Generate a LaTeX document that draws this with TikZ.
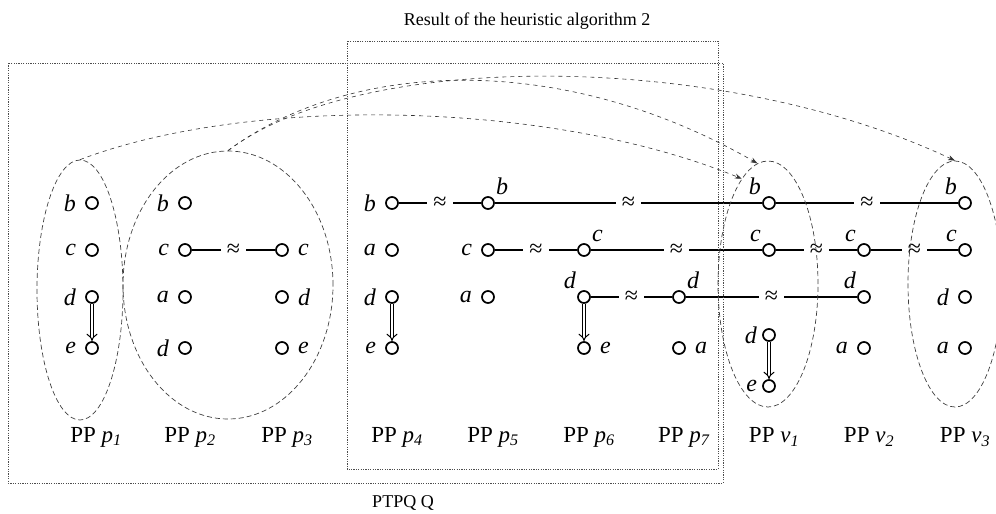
\documentclass[tikz,border=0pt]{standalone}
\usepackage{fontspec}
\setmainfont{Liberation Serif}
\usetikzlibrary{arrows.meta,shapes.geometric}
\tikzset{
  pnode/.style={draw, circle, fill=white, line width=1.7pt, inner sep=0pt, minimum size=12pt},
  plbl/.style={font=\fontsize{24}{24}\selectfont\itshape, inner sep=1pt, label distance=8pt},
  slbl/.style={plbl, label distance=3pt},
  ppname/.style={font=\fontsize{23}{26}\selectfont, inner sep=0pt},
  apx/.style={fill=white, inner xsep=6pt, inner ysep=1pt, font=\fontsize{24}{24}\selectfont},
  lnk/.style={line width=1.5pt},
  dbl/.style={double, double distance=2.8pt, line width=1pt, -{Implies[scale=1.3]}},
  grp/.style={draw=black!75, dash pattern=on 5pt off 3pt, line width=0.7pt, ellipse, inner sep=0pt},
  frm/.style={draw=black!70, dash pattern=on 1.2pt off 1.2pt, line width=0.6pt},
  mapto/.style={black!80, dash pattern=on 4pt off 4pt, line width=0.6pt, -{Stealth[length=7pt, width=5pt]}}
}
\begin{document}
\begin{tikzpicture}[x=1pt, y=-1pt]
\useasboundingbox (0,0) rectangle (996,514);
% PP p1 .. p3
\node[pnode, label={[plbl]left:b}] (p1b) at (92,203) {};
\node[pnode, label={[plbl]left:c}] (p1c) at (92,250) {};
\node[pnode, label={[plbl]left:d}] (p1d) at (92,297) {};
\node[pnode, label={[plbl]left:e}] (p1e) at (92,348) {};
\node[pnode, label={[plbl]left:b}] (p2b) at (185,203) {};
\node[pnode, label={[plbl]left:c}] (p2c) at (185,250) {};
\node[pnode, label={[plbl]left:a}] (p2a) at (185,297) {};
\node[pnode, label={[plbl]left:d}] (p2d) at (185,348) {};
\node[pnode, label={[plbl]right:c}] (p3c) at (282,250) {};
\node[pnode, label={[plbl]right:d}] (p3d) at (282,297) {};
\node[pnode, label={[plbl]right:e}] (p3e) at (282,348) {};
% PP p4 .. p7
\node[pnode, label={[plbl]left:b}] (p4b) at (392,203) {};
\node[pnode, label={[plbl]left:a}] (p4a) at (392,250) {};
\node[pnode, label={[plbl]left:d}] (p4d) at (392,297) {};
\node[pnode, label={[plbl]left:e}] (p4e) at (392,348) {};
\node[pnode, label={[slbl]45:b}] (p5b) at (488,203) {};
\node[pnode, label={[plbl]left:c}] (p5c) at (488,250) {};
\node[pnode, label={[plbl]left:a}] (p5a) at (488,297) {};
\node[pnode, label={[slbl]45:c}] (p6c) at (584,250) {};
\node[pnode, label={[slbl]135:d}] (p6d) at (584,297) {};
\node[pnode, label={[plbl]right:e}] (p6e) at (584,348) {};
\node[pnode, label={[slbl]45:d}] (p7d) at (679,297) {};
\node[pnode, label={[plbl]right:a}] (p7a) at (679,348) {};
% PP v1 .. v3
\node[pnode, label={[slbl]135:b}] (v1b) at (769,203) {};
\node[pnode, label={[slbl]135:c}] (v1c) at (769,250) {};
\node[pnode, label={[plbl,label distance=4pt]left:d}] (v1d) at (769,335) {};
\node[pnode, label={[plbl,label distance=4pt]left:e}] (v1e) at (769,386) {};
\node[pnode, label={[slbl]135:c}] (v2c) at (864,250) {};
\node[pnode, label={[slbl]135:d}] (v2d) at (864,297) {};
\node[pnode, label={[plbl]left:a}] (v2a) at (864,348) {};
\node[pnode, label={[slbl]135:b}] (v3b) at (965,203) {};
\node[pnode, label={[slbl]135:c}] (v3c) at (965,250) {};
\node[pnode, label={[plbl]left:d}] (v3d) at (965,297) {};
\node[pnode, label={[plbl]left:a}] (v3a) at (965,348) {};
% similar points
\draw[lnk] (p2c) -- node[apx] {≈} (p3c);
\draw[lnk] (p4b) -- node[apx] {≈} (p5b);
\draw[lnk] (p5b) -- node[apx] {≈} (v1b);
\draw[lnk] (v1b) -- node[apx] {≈} (v3b);
\draw[lnk] (p5c) -- node[apx] {≈} (p6c);
\draw[lnk] (p6c) -- node[apx] {≈} (v1c);
\draw[lnk] (v1c) -- node[apx] {≈} (v2c);
\draw[lnk] (v2c) -- node[apx] {≈} (v3c);
\draw[lnk] (p6d) -- node[apx] {≈} (p7d);
\draw[lnk] (p7d) -- node[apx] {≈} (v2d);
% order
\draw[dbl] (p1d) -- (p1e);
\draw[dbl] (p4d) -- (p4e);
\draw[dbl] (p6d) -- (p6e);
\draw[dbl] (v1d) -- (v1e);
% groups
\node[grp, minimum width=86pt, minimum height=260pt] (g1) at (80,290) {};
\node[grp, minimum width=210pt, minimum height=268pt] (g2) at (228,285) {};
\node[grp, minimum width=100pt, minimum height=246pt] (g3) at (768,284) {};
\node[grp, minimum width=94pt, minimum height=246pt] (g4) at (955,284) {};
\draw[mapto] (g1.north) .. controls (250,95) and (550,100) .. (g3.104);
\draw[mapto] (g2.north) .. controls (350,60) and (560,50) .. (g3.95);
\draw[mapto] (g2.north) .. controls (360,50) and (720,50) .. (g4.north);
% frames
\draw[frm] (8,63) rectangle (723,483);
\draw[frm] (347,41) rectangle (718,469);
\node[ppname, font=\fontsize{18}{22}\selectfont] (title) at (527,21) {Result of the heuristic algorithm 2};
\node[ppname, font=\fontsize{18}{22}\selectfont] (ptpq) at (403,503) {PTPQ Q};
% PP names
\node[ppname] (n1) at (96,437) {PP \textit{p}\textsubscript{\textit{1}}};
\node[ppname] (n2) at (190,437) {PP \textit{p}\textsubscript{\textit{2}}};
\node[ppname] (n3) at (287,437) {PP \textit{p}\textsubscript{\textit{3}}};
\node[ppname] (n4) at (397,437) {PP \textit{p}\textsubscript{\textit{4}}};
\node[ppname] (n5) at (493,437) {PP \textit{p}\textsubscript{\textit{5}}};
\node[ppname] (n6) at (589,437) {PP \textit{p}\textsubscript{\textit{6}}};
\node[ppname] (n7) at (684,437) {PP \textit{p}\textsubscript{\textit{7}}};
\node[ppname] (n8) at (774,437) {PP \textit{v}\textsubscript{\textit{1}}};
\node[ppname] (n9) at (869,437) {PP \textit{v}\textsubscript{\textit{2}}};
\node[ppname] (n10) at (965,437) {PP \textit{v}\textsubscript{\textit{3}}};
\end{tikzpicture}
\end{document}
